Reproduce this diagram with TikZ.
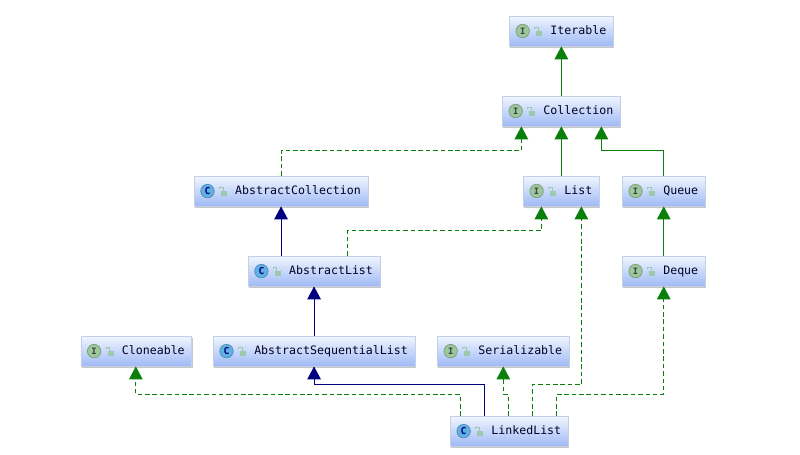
\documentclass[tikz,border=0pt]{standalone}
\usepackage{fontspec}
\setmonofont{DejaVu Sans Mono}
\usepackage{xcolor}
\usetikzlibrary{positioning,arrows.meta,shadows,calc}

\definecolor{implgreen}{HTML}{0A7F0A}
\definecolor{extnavy}{HTML}{00007F}
\definecolor{boxtop}{HTML}{F0F6FF}
\definecolor{boxbottom}{HTML}{A0BAF6}
\definecolor{boxline}{HTML}{C4D0E6}
\definecolor{ifacefill}{HTML}{9CC69C}
\definecolor{classfill}{HTML}{62B0E2}
\definecolor{lockgreen}{HTML}{9CC8AC}

\begin{document}
\begin{tikzpicture}[
    node distance=0.99cm,
    typebox/.style={rectangle, draw=boxline, line width=0.3pt, top color=boxtop, bottom color=boxbottom,
        minimum height=0.6cm, inner ysep=0pt, inner xsep=0.14cm, text height=4.9pt, text depth=1.3pt,
        font=\ttfamily\fontsize{6.6}{8}\selectfont, text=black!85!blue,
        execute at begin node={\hspace*{0.68cm}},
        general shadow={shadow xshift=0.02cm, shadow yshift=-0.03cm, fill=black, opacity=0.22}},
    ifaceicon/.style={circle, draw=ifacefill!80!black, fill=ifacefill, line width=0.4pt, minimum size=0.27cm, inner sep=0pt,
        font=\ttfamily\bfseries\fontsize{5}{5}\selectfont, text=black!75},
    classicon/.style={circle, draw=classfill!80!black, fill=classfill, line width=0.4pt, minimum size=0.27cm, inner sep=0pt,
        font=\ttfamily\bfseries\fontsize{5.5}{5}\selectfont, text=blue!50!black},
    lockbody/.style={rectangle, fill=lockgreen, minimum width=0.12cm, minimum height=0.1cm, inner sep=0pt},
    solidgreen/.style={-{Triangle[length=0.26cm,width=0.27cm]}, implgreen, line width=0.65pt},
    dashgreen/.style={solidgreen, dash pattern=on 2.6pt off 1.6pt},
    solidnavy/.style={-{Triangle[length=0.26cm,width=0.27cm]}, extnavy, line width=0.65pt}
]
    \useasboundingbox (0,0) rectangle (16,-9.08);

    % Interfaces on the right
    \node[typebox] (iterable) at (11.227,-0.62) {Iterable};
    \node[typebox, below=of iterable] (collection) {Collection};
    \node[typebox, below=of collection] (list) {List};
    \node[typebox, below right=0.99cm and 0.03cm of collection] (queue) {Queue};
    \node[typebox, below=of queue] (deque) {Deque};

    % Abstract classes
    \node[typebox, below left=0.99cm and 2.68cm of collection] (abscoll) {AbstractCollection};
    \node[typebox, below=of abscoll, xshift=0.66cm] (abslist) {AbstractList};
    \node[typebox, below=of abslist] (absseq) {AbstractSequentialList};

    % Bottom rows
    \node[typebox, left=0.42cm of absseq] (cloneable) {Cloneable};
    \node[typebox, right=0.44cm of absseq] (serial) {Serializable};
    \node[typebox, below=of serial, xshift=0.12cm] (linked) {LinkedList};

    % Icons
    \foreach \name in {iterable,collection,list,queue,deque,cloneable,serial}
        \node[ifaceicon] (\name icon) at ([xshift=0.27cm]\name.west) {I};
    \foreach \name in {abscoll,abslist,absseq,linked}
        \node[classicon] (\name icon) at ([xshift=0.27cm]\name.west) {C};
    \foreach \name in {iterable,collection,list,queue,deque,cloneable,serial,abscoll,abslist,absseq,linked} {
        \node[lockbody] (\name lock) at ([xshift=0.6cm,yshift=-0.05cm]\name.west) {};
        \draw[lockgreen, line width=0.5pt] ([xshift=-0.02cm]\name lock.north) -- ++(0,0.06) -- ++(-0.07,0) -- ++(0,-0.03);
    }

    % Arrows
    \draw[solidgreen] (collection) -- (iterable);
    \draw[solidgreen] (list) -- (collection);
    \draw[solidgreen] (deque) -- (queue);
    \draw[solidgreen] (queue.north) -- ++(0,0.5) -| ([xshift=0.8cm]collection.south);
    \draw[dashgreen] (abscoll.north) -- ++(0,0.5) -| ([xshift=-0.8cm]collection.south);
    \draw[dashgreen] ([xshift=0.66cm]abslist.north) -- ++(0,0.5) -| ([xshift=-0.4cm]list.south);
    \draw[solidnavy] (abslist.north -| abscoll.south) -- (abscoll.south);
    \draw[solidnavy] (absseq) -- (abslist);

    \draw[dashgreen] ([xshift=-0.98cm]linked.north) -- ++(0,0.43) -| ([xshift=-0.01cm]cloneable.south);
    \draw[solidnavy] ([xshift=-0.5cm]linked.north) -- ++(0,0.62) -| (absseq.south);
    \draw[dashgreen] ([xshift=-0.02cm]linked.north) -- ++(0,0.43) -| (serial.south);
    \draw[dashgreen] ([xshift=0.46cm]linked.north) -- ++(0,0.62) -| ([xshift=0.4cm]list.south);
    \draw[dashgreen] ([xshift=0.94cm]linked.north) -- ++(0,0.43) -| (deque.south);
\end{tikzpicture}
\end{document}
